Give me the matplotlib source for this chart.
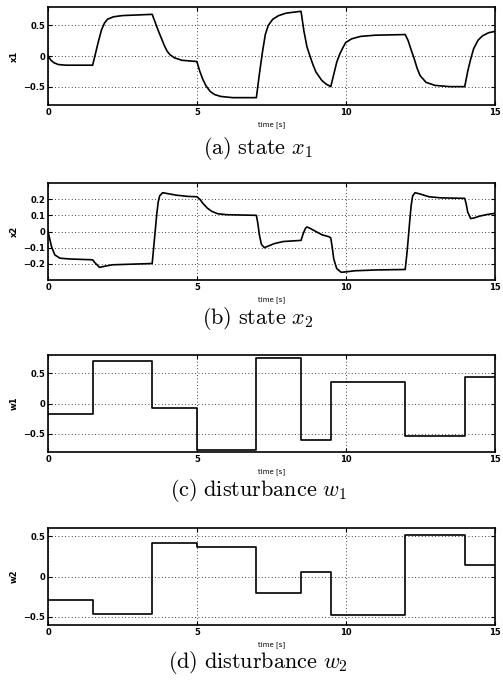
import matplotlib
matplotlib.use("Agg")
import matplotlib.pyplot as plt
import numpy as np

plt.rcParams['mathtext.fontset'] = 'cm'

# state x1
x1_t = [0, 0.1, 0.2, 0.35, 0.6, 1.5, 1.6, 1.7, 1.8, 1.9, 2.0, 2.2, 2.5, 3.0, 3.5,
        3.6, 3.7, 3.8, 3.9, 4.0, 4.1, 4.25, 4.5, 5.0,
        5.1, 5.2, 5.3, 5.45, 5.6, 5.8, 6.2, 7.0,
        7.1, 7.2, 7.3, 7.4, 7.55, 7.75, 8.0, 8.5,
        8.6, 8.7, 8.8, 8.9, 9.0, 9.2, 9.35, 9.5,
        9.6, 9.7, 9.8, 9.9, 10.0, 10.2, 10.5, 11.0, 12.0,
        12.1, 12.2, 12.3, 12.4, 12.5, 12.7, 13.0, 13.5, 14.0,
        14.1, 14.2, 14.3, 14.45, 14.6, 14.8, 15.0]
x1_v = [0, -0.07, -0.11, -0.14, -0.15, -0.15, 0.05, 0.25, 0.43, 0.54, 0.6, 0.64, 0.66, 0.67, 0.68,
        0.55, 0.42, 0.3, 0.18, 0.08, 0.02, -0.03, -0.07, -0.09,
        -0.25, -0.38, -0.48, -0.58, -0.63, -0.66, -0.68, -0.68,
        -0.3, 0.05, 0.35, 0.5, 0.6, 0.66, 0.7, 0.73,
        0.4, 0.15, 0.0, -0.14, -0.26, -0.4, -0.46, -0.5,
        -0.3, -0.1, 0.03, 0.13, 0.22, 0.28, 0.32, 0.34, 0.35,
        0.25, 0.1, -0.04, -0.2, -0.32, -0.43, -0.48, -0.5, -0.5,
        -0.25, -0.05, 0.12, 0.26, 0.33, 0.38, 0.4]

# state x2
x2_t = [0, 0.12, 0.23, 0.4, 0.73, 1.5, 1.56, 1.73, 1.9, 2.16, 3.5,
        3.55, 3.6, 3.65, 3.7, 3.75, 3.85, 4.0, 4.3, 4.7, 5.0,
        5.1, 5.2, 5.35, 5.5, 5.7, 6.0, 7.0,
        7.05, 7.1, 7.17, 7.27, 7.4, 7.6, 7.9, 8.5,
        8.58, 8.65, 8.7, 8.8, 9.0, 9.2, 9.45,
        9.5, 9.55, 9.6, 9.7, 9.85, 10.0, 10.3, 11.0, 12.0,
        12.05, 12.1, 12.15, 12.2, 12.25, 12.33, 12.5, 12.8, 13.2, 14.0,
        14.05, 14.1, 14.2, 14.3, 14.5, 14.75, 15.0]
x2_v = [0, -0.095, -0.145, -0.165, -0.17, -0.175, -0.19, -0.222, -0.215, -0.206, -0.198,
        -0.1, 0.0, 0.1, 0.18, 0.22, 0.24, 0.235, 0.225, 0.217, 0.215,
        0.2, 0.175, 0.145, 0.125, 0.11, 0.104, 0.1,
        0.05, -0.02, -0.08, -0.1, -0.09, -0.075, -0.062, -0.055,
        -0.01, 0.02, 0.028, 0.02, 0.0, -0.02, -0.033,
        -0.04, -0.1, -0.17, -0.23, -0.252, -0.25, -0.243, -0.238, -0.235,
        -0.15, -0.05, 0.06, 0.16, 0.22, 0.24, 0.232, 0.215, 0.208, 0.205,
        0.17, 0.12, 0.08, 0.083, 0.095, 0.105, 0.112]

# disturbances, piecewise constant
w_t = [0, 1.5, 3.5, 5, 7, 8.5, 9.5, 12, 14, 15]
w1_v = [-0.18, 0.7, -0.08, -0.77, 0.75, -0.6, 0.35, -0.53, 0.43]
w2_v = [-0.29, -0.46, 0.41, 0.36, -0.2, 0.05, -0.48, 0.51, 0.14]

xticks = [0, 5, 10, 15]
ylabels = ["x1", "x2", "w1", "w2"]
ylims = [(-0.8, 0.8), (-0.3, 0.3), (-0.8, 0.8), (-0.6, 0.6)]
yticks = [[-0.5, 0, 0.5], [-0.2, -0.1, 0, 0.1, 0.2], [-0.5, 0, 0.5], [-0.5, 0, 0.5]]
captions = [r'$\mathrm{(a)\ state}\ x_1$', r'$\mathrm{(b)\ state}\ x_2$',
            r'$\mathrm{(c)\ disturbance}\ w_1$', r'$\mathrm{(d)\ disturbance}\ w_2$']

fig = plt.figure(figsize=(5.03, 6.8), dpi=100)

# axes boxes in pixels (top, bottom) of the 680 px high figure
boxes = [(7, 105), (183, 280), (355, 452), (528, 625)]
cap_y = [148, 318, 490, 662]
left, right = 48, 494.5

for i in range(4):
    top, bot = boxes[i]
    ax = fig.add_axes([left / 503, 1 - bot / 680, (right - left) / 503, (bot - top) / 680])
    if i == 0:
        ax.plot(x1_t, x1_v, color='black', lw=1.2)
    elif i == 1:
        ax.plot(x2_t, x2_v, color='black', lw=1.2)
    else:
        vals = w1_v if i == 2 else w2_v
        ax.step(w_t, vals + [vals[-1]], where='post', color='black', lw=1.2)
    ax.set_xlim(0, 15)
    ax.set_ylim(*ylims[i])
    ax.set_xticks(xticks)
    ax.set_yticks(yticks[i])
    ax.set_yticklabels([('%g' % v).replace('-', '\u2212') for v in yticks[i]])
    ax.grid(True, linestyle=(0, (1, 3)), color='black', lw=0.6)
    ax.tick_params(direction='in', top=True, right=True, length=3, labelsize=6, pad=2)
    for lab in ax.get_xticklabels() + ax.get_yticklabels():
        lab.set_fontweight('bold')
    for s in ax.spines.values():
        s.set_linewidth(1.2)
    ax.set_xlabel("time [s]", fontsize=5, labelpad=3)
    ax.set_ylabel(ylabels[i], fontsize=6, fontweight='bold', labelpad=3)
    fig.text(258 / 503, 1 - cap_y[i] / 680, captions[i], fontsize=16, ha='center', va='center')

plt.savefig("out.png", dpi=100)
